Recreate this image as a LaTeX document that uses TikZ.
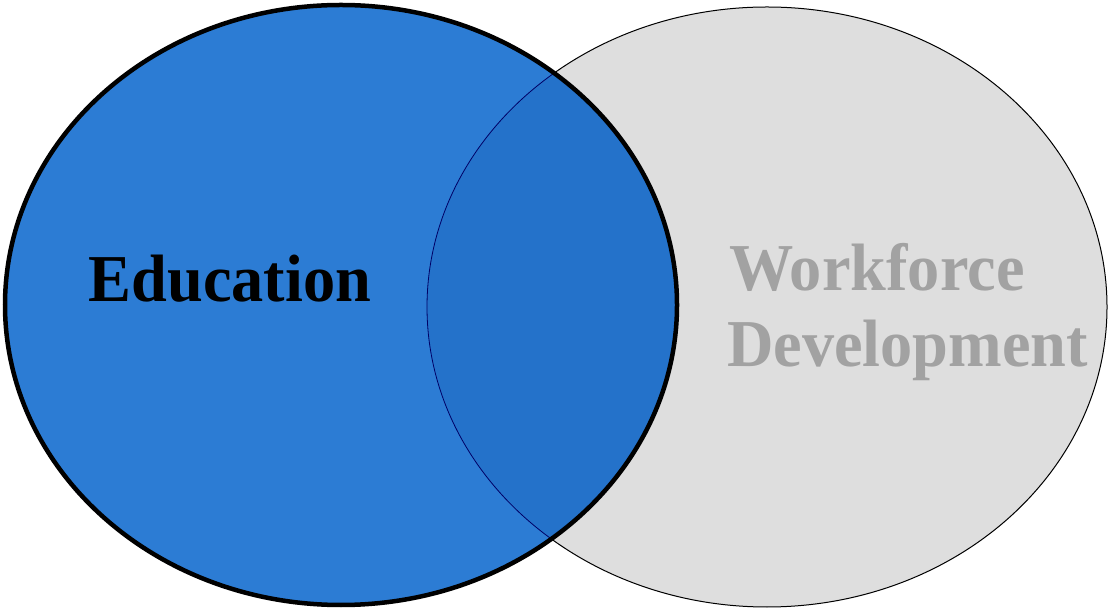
\documentclass[tikz,border=0pt]{standalone}
\usepackage{fontspec}
\setmainfont{Liberation Serif}
\definecolor{edublue}{RGB}{44,124,212}
\definecolor{midblue}{RGB}{36,114,202}
\definecolor{wfgray}{RGB}{222,222,222}
\definecolor{wftext}{RGB}{162,162,162}
\tikzset{
  label text/.style={font=\bfseries\fontsize{67}{70}\selectfont, inner sep=0pt, xscale=0.96, transform shape},
}
\begin{document}
\begin{tikzpicture}[x=1pt,y=1pt]
    \useasboundingbox (0,0) rectangle (1110,610);
    \coordinate (E) at (341,305);
    \coordinate (W) at (767,303);
    % right set
    \fill[wfgray] (W) ellipse[x radius=340, y radius=300];
    \draw[black, line width=1pt] (W) ellipse[x radius=340, y radius=300];
    % left set
    \fill[edublue] (E) ellipse[x radius=336, y radius=300];
    \begin{scope}
      \clip (E) ellipse[x radius=336, y radius=300];
      \fill[midblue] (W) ellipse[x radius=340, y radius=300];
      \draw[black!60!blue, line width=0.8pt] (W) ellipse[x radius=340, y radius=300];
    \end{scope}
    \draw[line width=4.5pt] (E) ellipse[x radius=336, y radius=300];
    \node[label text, anchor=base] (edu) at (230,308) {Education};
    \node[label text, anchor=base west, text=wftext] (wf) at (729,319) {Workforce};
    \node[label text, anchor=base west, text=wftext] (dev) at (727,243) {Development};
  \end{tikzpicture}
\end{document}
